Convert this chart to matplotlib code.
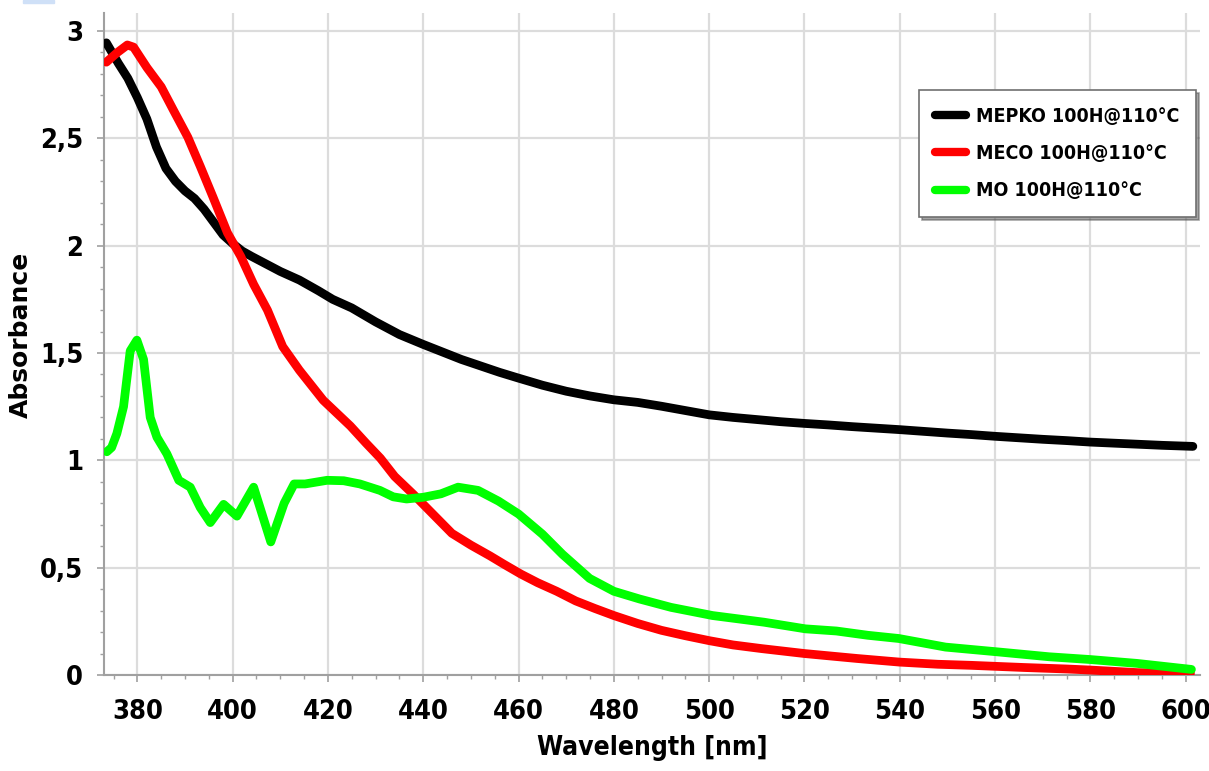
import matplotlib
matplotlib.use("Agg")
import matplotlib.pyplot as plt
from matplotlib.ticker import MultipleLocator, FuncFormatter
from matplotlib.patches import Rectangle
from matplotlib import font_manager

# ---------------- data ----------------
mepko_x = [373.5, 376, 378, 380, 382, 384, 386, 388, 390, 392, 394, 396, 398, 400,
           402, 404, 407, 410, 414, 418, 421, 425, 430, 435, 440, 444, 448, 452, 456,
           460, 465, 470, 475, 480, 485, 490, 495, 500, 505, 510, 515, 520, 525, 530,
           535, 540, 545, 550, 555, 560, 565, 570, 575, 580, 585, 590, 595, 601.5]
mepko_y = [2.945, 2.85, 2.78, 2.69, 2.59, 2.46, 2.36, 2.30, 2.255, 2.22, 2.17, 2.11, 2.05, 2.01,
           1.975, 1.95, 1.915, 1.88, 1.84, 1.79, 1.75, 1.71, 1.645, 1.586, 1.54, 1.505, 1.47, 1.44, 1.41,
           1.383, 1.35, 1.322, 1.30, 1.282, 1.27, 1.252, 1.232, 1.212, 1.20, 1.19, 1.18, 1.172, 1.165, 1.157,
           1.15, 1.143, 1.135, 1.127, 1.12, 1.112, 1.105, 1.098, 1.092, 1.085, 1.08, 1.075, 1.07, 1.065]

meco_x = [373.5, 375.8, 377.9, 379.2, 382, 385, 387.6, 390.6, 393.2, 395.9, 398.9, 401.7,
          404.4, 407.3, 410.5, 414, 419, 424.7, 428, 431, 434, 438, 442, 446, 450, 454,
          457, 460.5, 464, 468, 472, 476, 480, 485, 490, 495, 500, 505, 511, 520, 531,
          540, 548, 555, 566, 575, 580, 590, 601]
meco_y = [2.855, 2.90, 2.935, 2.925, 2.83, 2.74, 2.63, 2.505, 2.37, 2.225, 2.06, 1.95,
          1.82, 1.70, 1.53, 1.42, 1.28, 1.16, 1.08, 1.01, 0.925, 0.84, 0.75, 0.66, 0.605, 0.555,
          0.515, 0.47, 0.43, 0.39, 0.345, 0.31, 0.277, 0.24, 0.208, 0.183, 0.16, 0.14, 0.123, 0.10, 0.077,
          0.06, 0.05, 0.045, 0.035, 0.028, 0.023, 0.011, 0.008]

mo_x = [373.6, 374.6, 375.7, 377.1, 378.5, 379.9, 381.3, 382.7, 384.1, 386.2, 388.7, 391.1,
        393.2, 395.3, 398.1, 400.9, 404.4, 408.0, 410.8, 412.9, 415.2, 419.8, 423.3, 426.7,
        430.9, 433.7, 436.5, 440, 443.7, 447.3, 451.5, 455.8, 460, 465, 469.2, 474.9, 480,
        485.4, 492, 500.7, 511.5, 520.2, 526.7, 533.3, 539.8, 549.6, 560.4, 571.3, 580,
        589.8, 601.2]
mo_y = [1.04, 1.06, 1.125, 1.25, 1.51, 1.56, 1.47, 1.20, 1.108, 1.03, 0.907, 0.875,
        0.78, 0.71, 0.795, 0.74, 0.875, 0.62, 0.80, 0.89, 0.89, 0.907, 0.905, 0.89,
        0.86, 0.83, 0.82, 0.828, 0.844, 0.875, 0.86, 0.81, 0.75, 0.656, 0.5625, 0.45, 0.39,
        0.354, 0.315, 0.277, 0.246, 0.215, 0.205, 0.185, 0.17, 0.13, 0.108, 0.085, 0.072,
        0.054, 0.026]

labels = ["MEPKO 100H@110°C", "MECO 100H@110°C", "MO 100H@110°C"]
colors = ["#000000", "#ff0000", "#00ff00"]

# ---------------- fonts ----------------
names = {f.name for f in font_manager.fontManager.ttflist}
cond = [f for f in font_manager.fontManager.ttflist
        if f.name == "DejaVu Sans" and f.stretch == "condensed"]
if "Liberation Sans Narrow" in names:
    FP = dict(family=["Liberation Sans Narrow", "DejaVu Sans"], fontweight="bold")
elif cond:
    FP = dict(family=["DejaVu Sans"], fontweight="bold", fontstretch="condensed")
else:
    FP = dict(family=["DejaVu Sans"], fontweight="bold")

fig = plt.figure(figsize=(12.09, 7.71), dpi=100)
AX_L, AX_R, AX_T, AX_B = 104, 1200, 13, 675
ax = fig.add_axes([AX_L / 1209, 1 - AX_B / 771, (AX_R - AX_L) / 1209, (AX_B - AX_T) / 771])

series = [(mepko_x, mepko_y), (meco_x, meco_y), (mo_x, mo_y)]
for (x, y), lab, c in zip(series, labels, colors):
    ax.plot(x, y, color=c, lw=6.3, label=lab, solid_capstyle="round",
            solid_joinstyle="round", zorder=3)

ax.set_xlim(373.0, 603.0)
ax.set_ylim(0, 3.084)

ax.xaxis.set_major_locator(MultipleLocator(20))
ax.xaxis.set_minor_locator(MultipleLocator(5))
ax.yaxis.set_major_locator(MultipleLocator(0.5))
ax.yaxis.set_minor_locator(MultipleLocator(0.1))
ax.yaxis.set_major_formatter(FuncFormatter(lambda v, p: ("%g" % v).replace(".", ",")))

ax.grid(True, which="major", color="#dcdcdc", lw=1.6, zorder=0)
for s in ["top", "right"]:
    ax.spines[s].set_visible(False)
for s in ["left", "bottom"]:
    ax.spines[s].set_color("#a0a0a0")
    ax.spines[s].set_linewidth(1.5)

ax.tick_params(axis="both", which="major", length=5, width=1.2, color="#a0a0a0")
ax.tick_params(axis="both", which="minor", length=3, width=1.0, color="#a0a0a0")
ax.tick_params(axis="x", which="major", pad=12)
ax.tick_params(axis="y", which="major", pad=10)

for lbl in ax.get_xticklabels() + ax.get_yticklabels():
    lbl.set_family(FP["family"])
    lbl.set_fontweight("bold")
    if "fontstretch" in FP:
        lbl.set_fontstretch("condensed")
    lbl.set_fontsize(19.5)

ax.set_xlabel("Wavelength [nm]", fontsize=19, **FP)
ax.xaxis.set_label_coords(0.5, -(735 - AX_B) / (AX_B - AX_T))
ax.set_ylabel("Absorbance", family="DejaVu Sans", fontweight="bold", fontsize=18)
ax.yaxis.set_label_coords(-(AX_L - 33) / (AX_R - AX_L), (AX_B - 335) / (AX_B - AX_T))

prop = {"family": FP["family"], "weight": "bold", "size": 14}
if "fontstretch" in FP:
    prop["stretch"] = "condensed"
leg = ax.legend(loc="upper right",
                bbox_to_anchor=((1196 - AX_L) / (AX_R - AX_L), 1 - (90 - AX_T) / (AX_B - AX_T)),
                prop=prop, frameon=True, fancybox=False, shadow=True, borderpad=0.85,
                handlelength=1.6, handletextpad=0.5, labelspacing=0.95,
                borderaxespad=0)
leg.get_frame().set_edgecolor("#707070")
leg.get_frame().set_linewidth(1.2)
for h in leg.get_lines():
    h.set_linewidth(6)

fig.patches.append(Rectangle((23 / 1209, 1 - 3 / 771), 31 / 1209, 3 / 771,
                             transform=fig.transFigure, color="#cfe0f7"))

fig.savefig("out.png", dpi=100)
